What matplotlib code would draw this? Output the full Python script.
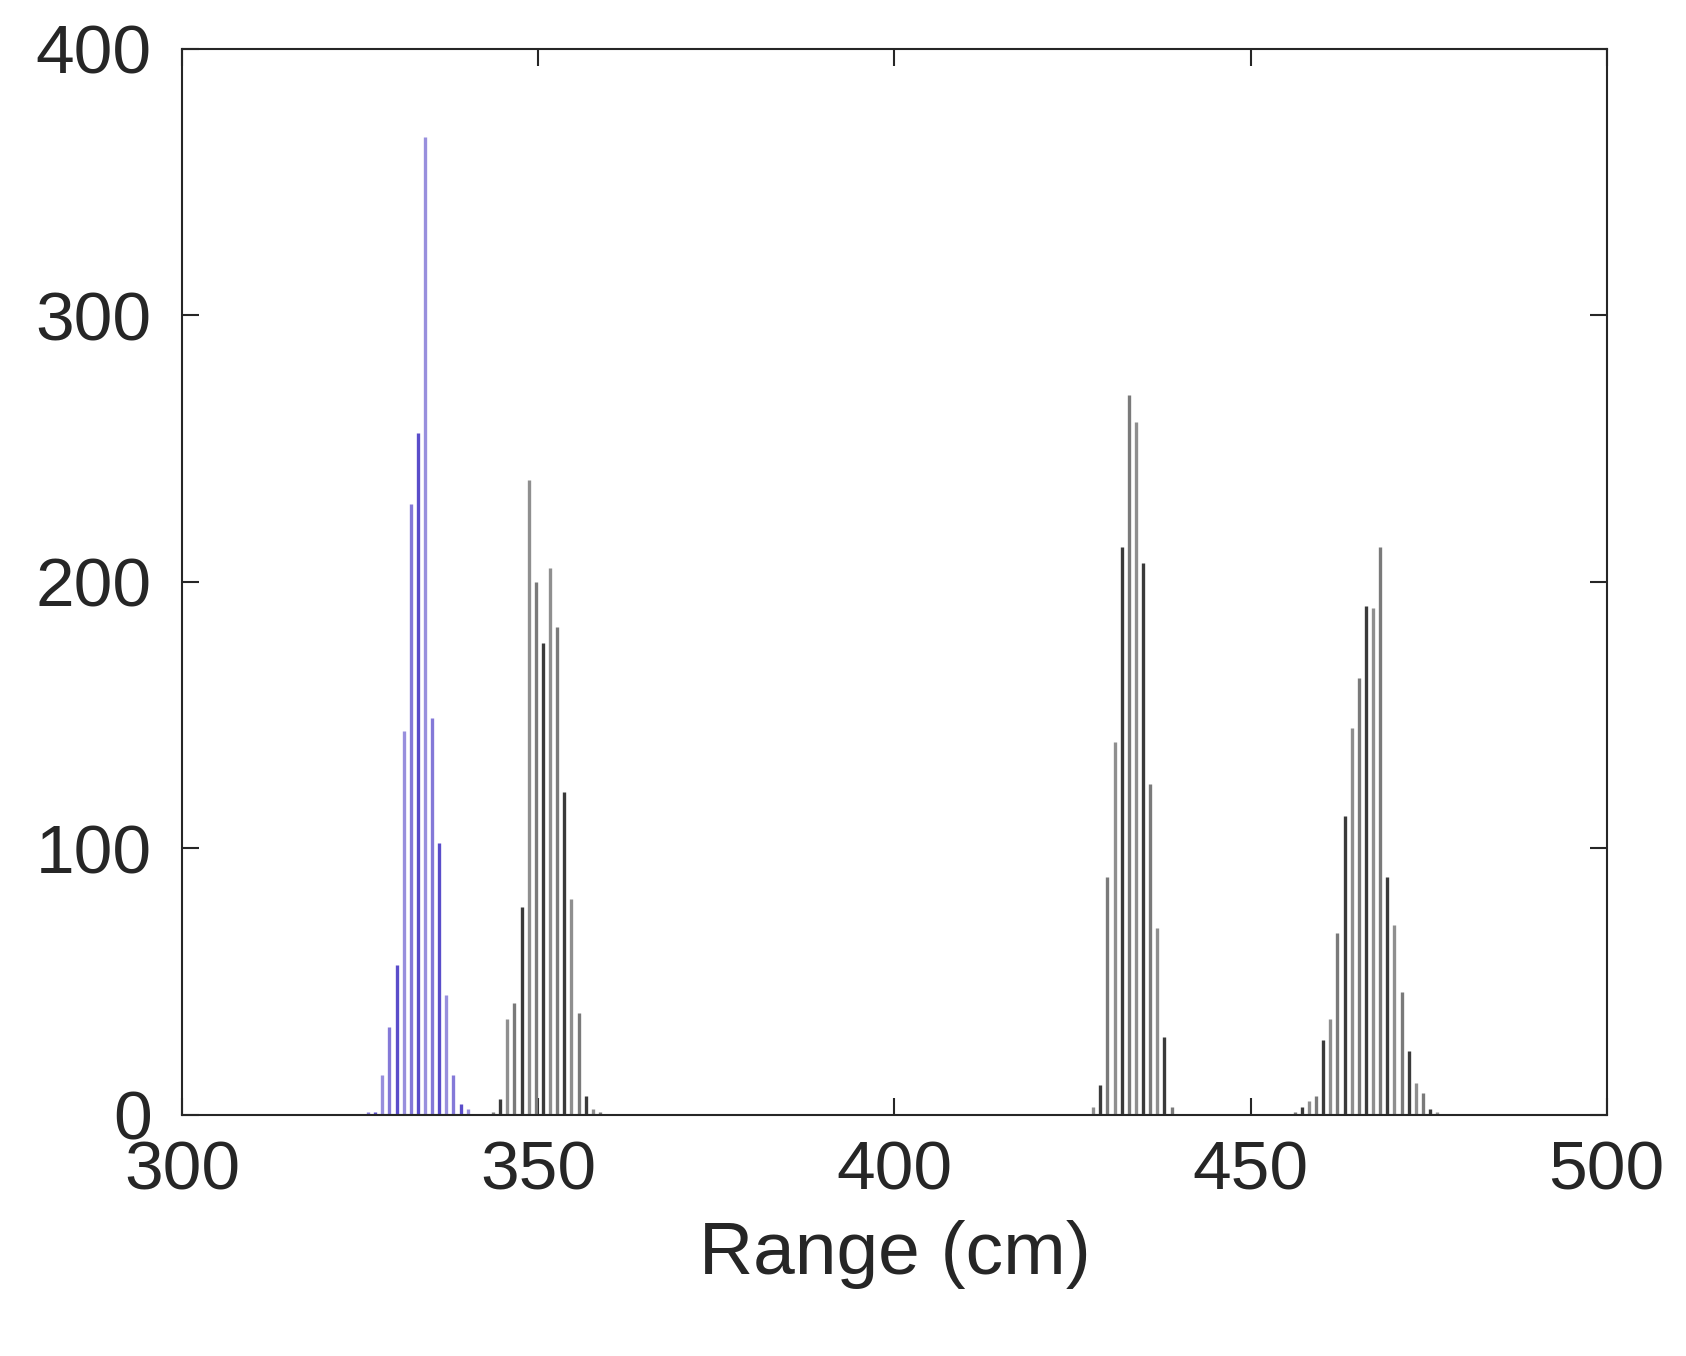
import numpy as np
import matplotlib.pyplot as plt

plt.rcParams['font.family'] = ['Liberation Sans', 'DejaVu Sans']

# histogram counts per 1 cm bin
blue_start = 326.1
blue_counts = [1, 1, 15, 33, 56, 144, 229, 256, 367, 149, 102, 45, 15, 4, 2]

grey1_start = 343.65
grey1_counts = [1, 6, 36, 42, 78, 238, 200, 177, 205, 183, 121, 81, 38, 7, 2, 1]

grey2_start = 427.9
grey2_counts = [3, 11, 89, 140, 213, 270, 260, 207, 124, 70, 29, 3]

grey3_start = 456.2
grey3_counts = [1, 3, 5, 7, 28, 36, 68, 112, 145, 164, 191, 190, 213, 89, 71, 46, 24, 12, 8, 2, 1]

fig = plt.figure(figsize=(16.86, 13.56), dpi=100)
ax = fig.add_axes([0.108, 0.178, 0.845, 0.786])

def draw(start, counts, shades):
    x = start + np.arange(len(counts))
    cols = [shades[i % len(shades)] for i in range(len(counts))]
    ax.vlines(x, 0, counts, colors=cols, linewidth=2.4)
    ax.hlines(0, x[0], x[-1], colors=shades[0], linewidth=1.5)

draw(blue_start, blue_counts, ['#8479d8', '#5a4dca', '#988fdd'])
draw(grey1_start, grey1_counts, ['#7a7a7a', '#3a3a3a', '#8f8f8f'])
draw(grey2_start, grey2_counts, ['#8f8f8f', '#3a3a3a', '#7a7a7a'])
draw(grey3_start, grey3_counts, ['#7a7a7a', '#3a3a3a', '#8f8f8f'])

ax.set_xlim(300, 500)
ax.set_ylim(0, 400)
ax.set_xticks([300, 350, 400, 450, 500])
ax.set_yticks([0, 100, 200, 300, 400])
ax.tick_params(direction='in', top=True, right=True, labelsize=50,
               length=12, width=1.5, colors='#262626')
ax.tick_params(axis='x', pad=18)
ax.tick_params(axis='y', pad=22)
for s in ax.spines.values():
    s.set_color('#262626')
    s.set_linewidth(1.5)
ax.set_xlabel('Range (cm)', fontsize=54, color='#262626', labelpad=12)

fig.savefig('out.png')
